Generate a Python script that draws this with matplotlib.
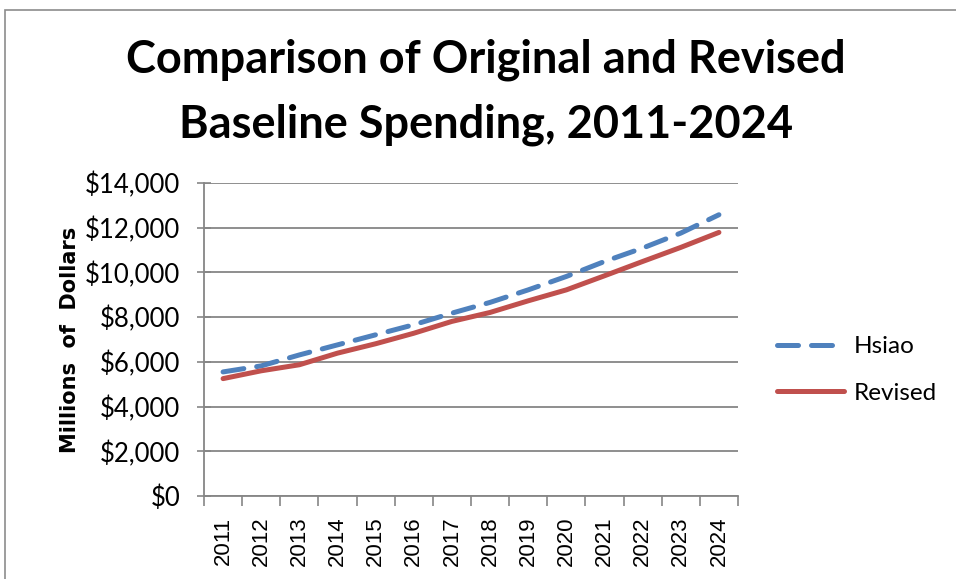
import matplotlib
matplotlib.use("Agg")
import matplotlib.pyplot as plt
from matplotlib.ticker import FuncFormatter, MultipleLocator
from matplotlib.patches import Rectangle

# Data (millions of dollars)
years = [2011, 2012, 2013, 2014, 2015, 2016, 2017,
         2018, 2019, 2020, 2021, 2022, 2023, 2024]
hsiao = [5550, 5820, 6310, 6760, 7210, 7660, 8180,
         8660, 9220, 9820, 10490, 11090, 11760, 12580]
revised = [5250, 5600, 5870, 6390, 6810, 7280, 7810,
           8210, 8730, 9220, 9850, 10490, 11120, 11790]

blue = "#4F81BD"
red = "#C0504D"
grid_grey = "#868686"

fig = plt.figure(figsize=[9.56, 5.79], dpi=100)
# chart border (cropped at the right / bottom)
fig.patches.append(Rectangle((5/956, -0.1), 1.1, 1 - 10/579 + 0.1,
                             transform=fig.transFigure, fill=False,
                             edgecolor="#8c8c8c", linewidth=1.2))

ax = fig.add_axes([204/956, 1 - 496/579, (738 - 204)/956, (496 - 183)/579])

x = list(range(len(years)))
ax.plot(x, hsiao, color=blue, linewidth=3.6, dashes=(4.2, 2.6),
        dash_capstyle="round", label="Hsiao")
ax.plot(x, revised, color=red, linewidth=3.6, label="Revised",
        solid_capstyle="round")

ax.set_xlim(-0.5, len(years) - 0.5)
ax.set_ylim(0, 14000)
ax.yaxis.set_major_locator(MultipleLocator(2000))
ax.yaxis.set_major_formatter(FuncFormatter(lambda v, p: "${:,.0f}".format(v)))

# category ticks between years, labels at centres
ax.set_xticks([i - 0.5 for i in range(len(years) + 1)])
ax.set_xticklabels([])
ax.set_xticks(x, minor=True)
ax.set_xticklabels([str(y) for y in years], minor=True, rotation=90,
                   fontsize=16, family="Liberation Sans")
ax.tick_params(axis="x", which="major", length=7, width=1.2,
               color=grid_grey, direction="out")
ax.tick_params(axis="x", which="minor", length=0, pad=15)
ax.tick_params(axis="y", length=10, width=1.2, color=grid_grey,
               direction="inout", pad=12)
for lbl in ax.get_yticklabels():
    lbl.set_fontsize(18.5)
    lbl.set_family("Lato")

ax.grid(axis="y", color=grid_grey, linewidth=1.3)
ax.set_axisbelow(True)
for s in ["top", "right"]:
    ax.spines[s].set_visible(False)
for s in ["left", "bottom"]:
    ax.spines[s].set_color(grid_grey)
    ax.spines[s].set_linewidth(1.3)

ax.set_ylabel("Millions  of  Dollars", fontsize=15, fontweight="bold",
              family="DejaVu Sans", labelpad=4)

fig.text(0.508, 1 - 92/579,
         "Comparison of Original and Revised\nBaseline Spending, 2011-2024",
         ha="center", va="center", fontsize=32.5, fontweight="bold",
         family="Lato", linespacing=1.65)

leg = ax.legend(loc="center left", bbox_to_anchor=(777/956, 1 - 370/579),
                bbox_transform=fig.transFigure, borderpad=0,
                borderaxespad=0, frameon=False, handlelength=2.75,
                labelspacing=1.05, handletextpad=0.42,
                prop={"family": "Lato", "size": 17.5})

fig.savefig("out.png", dpi=100)
